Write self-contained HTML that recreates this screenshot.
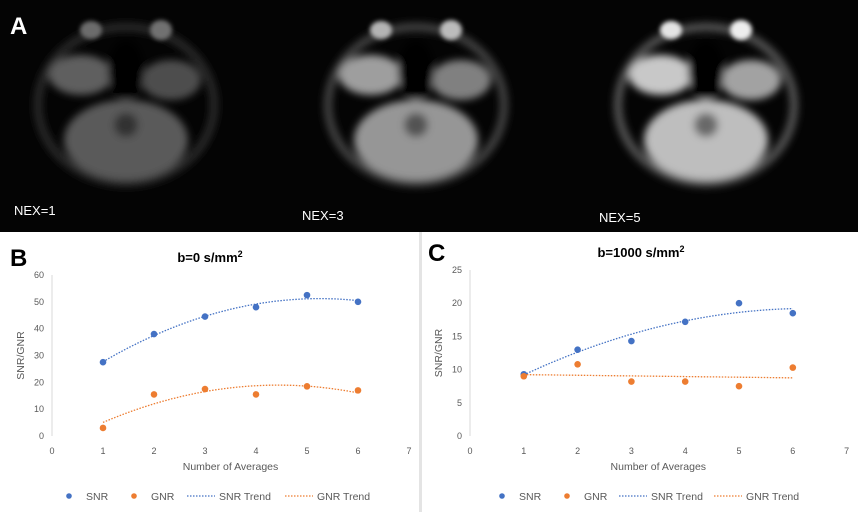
<!DOCTYPE html>
<html><head><meta charset="utf-8"><style>
body{margin:0;width:858px;height:512px;overflow:hidden;background:#fff;font-family:"Liberation Sans",sans-serif}
#top{position:absolute;left:0;top:0;width:858px;height:232px;background:#040404}
svg text{font-family:"Liberation Sans",sans-serif}
</style></head><body>
<div id="top">
<svg width="858" height="232">
<defs>
<filter id="bl" x="-30%" y="-30%" width="160%" height="160%"><feGaussianBlur stdDeviation="4"/></filter>
<filter id="bl2" x="-30%" y="-30%" width="160%" height="160%"><feGaussianBlur stdDeviation="2"/></filter>
</defs>
<g id="brains"></g>
<text x="10" y="34" fill="#fff" font-size="24" font-weight="bold">A</text>
<text x="14" y="215" fill="#fff" font-size="13">NEX=1</text>
<text x="302" y="220" fill="#fff" font-size="13">NEX=3</text>
<text x="599" y="222" fill="#fff" font-size="13">NEX=5</text>
</svg></div>
<div style="position:absolute;left:419px;top:232px;width:3px;height:280px;background:#e4e4e4"></div>
<svg id="charts" width="858" height="512" style="position:absolute;left:0;top:0"></svg>
<script>
const brainCenters=[126,416,706];
const brainGain=[0.45,0.75,0.95];
const bg=document.getElementById('brains');
brainCenters.forEach((cx,i)=>{
  const g=brainGain[i];
  const c=v=>{const k=Math.round(Math.min(255,v*g));return `rgb(${k},${k},${k})`;};
  bg.insertAdjacentHTML('beforeend',`
  <g filter="url(#bl)">
   <ellipse cx="${cx}" cy="105" rx="88" ry="78" fill="none" stroke="${c(90)}" stroke-width="8"/>
   <ellipse cx="${cx}" cy="140" rx="62" ry="40" fill="${c(200)}"/>
   <ellipse cx="${cx-45}" cy="75" rx="32" ry="20" fill="${c(210)}"/>
   <ellipse cx="${cx+45}" cy="80" rx="30" ry="20" fill="${c(170)}"/>
   <ellipse cx="${cx}" cy="70" rx="18" ry="30" fill="#050505"/>
   <ellipse cx="${cx}" cy="125" rx="12" ry="12" fill="${c(110)}"/>
  </g>
  <g filter="url(#bl2)">
   <ellipse cx="${cx-35}" cy="30" rx="11" ry="9" fill="${c(240)}"/>
   <ellipse cx="${cx+35}" cy="30" rx="11" ry="10" fill="${c(250)}"/>
  </g>`);
});
</script>
<script>
// Chart B data
const xCats=[1,2,3,4,5,6];
const bSNR=[27.5,38,44.5,48,52.5,50];
const bGNR=[3,15.5,17.5,15.5,18.5,17];
const bYTicks=[0,10,20,30,40,50,60];
// Chart C data
const cSNR=[9.3,13,14.3,17.2,20,18.5];
const cGNR=[9,10.8,8.2,8.2,7.5,10.3];
const cYTicks=[0,5,10,15,20,25];
const xTicks=[0,1,2,3,4,5,6,7];
const NS='http://www.w3.org/2000/svg';
const svg=document.getElementById('charts');
function el(tag,attrs,parent,text){const e=document.createElementNS(NS,tag);for(const k in attrs)e.setAttribute(k,attrs[k]);if(text!==undefined)e.textContent=text;(parent||svg).appendChild(e);return e;}
function polyfit(xs,ys,deg){
  const n=deg+1,A=[],b=[];
  for(let i=0;i<n;i++){A.push([]);for(let j=0;j<n;j++){let s=0;xs.forEach(x=>s+=Math.pow(x,i+j));A[i].push(s);}let t=0;xs.forEach((x,k)=>t+=ys[k]*Math.pow(x,i));b.push(t);}
  for(let i=0;i<n;i++){let p=i;for(let r=i+1;r<n;r++)if(Math.abs(A[r][i])>Math.abs(A[p][i]))p=r;[A[i],A[p]]=[A[p],A[i]];[b[i],b[p]]=[b[p],b[i]];
    for(let r=0;r<n;r++){if(r===i)continue;const f=A[r][i]/A[i][i];for(let c=i;c<n;c++)A[r][c]-=f*A[i][c];b[r]-=f*b[i];}}
  return b.map((v,i)=>v/A[i][i]);
}
function drawChart(o){
  const g=el('g',{});
  
  
  const X=v=>o.x0+v*o.ux, Y=v=>o.y0-v/o.ymax*(o.y0-o.ytop);
  el('line',{x1:o.x0,y1:o.ytop,x2:o.x0,y2:o.y0,stroke:'#d9d9d9'},g);
  o.yTicks.forEach(t=>{const e=el('text',{x:o.x0-8,y:Y(t)+3,'text-anchor':'end','font-size':9,fill:'#595959'},g,t);
    });
  xTicks.forEach(t=>{const e=el('text',{x:X(t),y:o.y0+18,'text-anchor':'middle','font-size':9,fill:'#595959'},g,t);
    });
  const tt=el('text',{x:o.tx,y:o.ytop-13,'text-anchor':'middle','font-size':13,'font-weight':'bold',fill:'#000'},g);
  tt.innerHTML=o.title+'<tspan dy="-5" font-size="9">2</tspan>';
  
  const pl=el('text',{x:o.px,y:o.ytop-9,'font-size':24,'font-weight':'bold',fill:'#000'},g,o.panel);
  
  const xt=el('text',{x:(X(0)+X(7))/2,y:o.y0+34,'text-anchor':'middle','font-size':10.5,fill:'#595959'},g,'Number of Averages');
  
  const yt=el('text',{x:0,y:0,'text-anchor':'middle','font-size':10.5,fill:'#595959',transform:`translate(${o.x0-28},${(o.y0+o.ytop)/2}) rotate(-90)`},g,'SNR/GNR');
  
  const series=[{v:o.snr,c:'#4472c4',d:o.snrDeg,n:'snr'},{v:o.gnr,c:'#ed7d31',d:o.gnrDeg,n:'gnr'}];
  series.forEach(s=>{
    const co=polyfit(xCats,s.v,s.d);let p='';
    for(let x=1;x<=6.0001;x+=0.05){let y=0;co.forEach((c,i)=>y+=c*Math.pow(x,i));p+=(p?'L':'M')+X(x).toFixed(1)+','+Y(y).toFixed(1);}
    const tl=el('path',{d:p,fill:'none',stroke:s.c,'stroke-width':1.3,'stroke-dasharray':'1.5 1.5'},g);
    
    s.v.forEach((v,i)=>{const c=el('circle',{cx:X(xCats[i]),cy:Y(v),r:3.3,fill:s.c},g);
      });
  });
  const ly=496,L=o.leg;
  const items=[['dot','#4472c4',L[0],'SNR'],['dot','#ed7d31',L[1],'GNR'],['line','#4472c4',L[2],'SNR Trend'],['line','#ed7d31',L[3],'GNR Trend']];
  items.forEach(it=>{
    const lg=el('g',{},g);
    let tx;
    if(it[0]==='dot'){el('circle',{cx:it[2],cy:ly,r:2.8,fill:it[1]},lg);tx=it[2]+17;}
    else{el('line',{x1:it[2],y1:ly,x2:it[2]+28,y2:ly,stroke:it[1],'stroke-width':1.3,'stroke-dasharray':'1.5 1.5'},lg);tx=it[2]+32;}
    el('text',{x:tx,y:ly+4,'font-size':10.5,fill:'#595959'},lg,it[3]);
  });
}
drawChart({name:'chart-b',panel:'B',px:10,title:'b=0 s/mm',tx:210,x0:52,ux:51,y0:436,ytop:275,ymax:60,yTicks:bYTicks,snr:bSNR,gnr:bGNR,snrDeg:2,gnrDeg:2,leg:[69,134,187,285]});
drawChart({name:'chart-c',panel:'C',px:428,title:'b=1000 s/mm',tx:641,x0:470,ux:53.8,y0:436,ytop:270,ymax:25,yTicks:cYTicks,snr:cSNR,gnr:cGNR,snrDeg:2,gnrDeg:1,leg:[502,567,619,714]});
</script>
</body></html>
